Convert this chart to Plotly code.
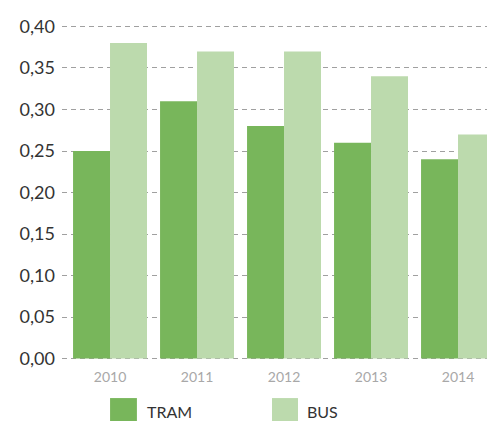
import plotly.graph_objects as go

years = ["2010", "2011", "2012", "2013", "2014"]
tram = [0.25, 0.31, 0.28, 0.26, 0.24]
bus = [0.38, 0.37, 0.37, 0.34, 0.27]
series_names = ["TRAM", "BUS"]
y_ticks = [0, 0.05, 0.10, 0.15, 0.20, 0.25, 0.30, 0.35, 0.40]

TRAM_COLOR = "#78b65b"
BUS_COLOR = "#bcdaad"
FONT = "Lato"

# the page body has an 8px margin, so the figure is sized to the visible area
W, H = 487, 413

fig = go.Figure()
fig.add_trace(go.Bar(x=list(range(len(years))), y=tram, name=series_names[0],
                     marker=dict(color=TRAM_COLOR, line=dict(width=0))))
fig.add_trace(go.Bar(x=list(range(len(years))), y=bus, name=series_names[1],
                     marker=dict(color=BUS_COLOR, line=dict(width=0))))

fig.update_layout(
    width=W, height=H,
    margin=dict(l=54, r=0, t=16, b=60, autoexpand=False),
    paper_bgcolor="white", plot_bgcolor="white",
    barmode="group", bargap=0.15, bargroupgap=0,
    showlegend=False,
    separators=",.",
    font=dict(family=FONT, color="#333333"),
)
fig.update_xaxes(
    tickmode="array", tickvals=list(range(len(years))), ticktext=years,
    range=[-0.552, 4.425], showgrid=False, zeroline=False, showline=False,
    tickfont=dict(size=14, color="#a8a8a8", family=FONT),
    ticklabelstandoff=6,
)
fig.update_yaxes(
    range=[-0.003, 0.403], tickmode="array", tickvals=y_ticks, tickformat=".2f",
    showgrid=True, gridcolor="#a0a0a0", griddash="5px,4px", gridwidth=1,
    zeroline=False, showline=False,
    tickfont=dict(size=18, color="#333333", family=FONT),
    ticklabelstandoff=6,
)

# custom legend with large swatches
legend_items = [(series_names[0], TRAM_COLOR, 0.111, 0.173, 0.192),
                (series_names[1], BUS_COLOR, 0.485, 0.545, 0.561)]
for name, col, x0, x1, xt in legend_items:
    fig.add_shape(type="rect", xref="paper", yref="paper", x0=x0, x1=x1,
                  y0=-0.19, y1=-0.110, fillcolor=col, line=dict(width=0))
    fig.add_annotation(text=name, xref="paper", yref="paper", x=xt, y=-0.150,
                       xanchor="left", yanchor="middle", showarrow=False,
                       font=dict(size=16, color="#333333", family=FONT))

fig.write_html("out.html")
